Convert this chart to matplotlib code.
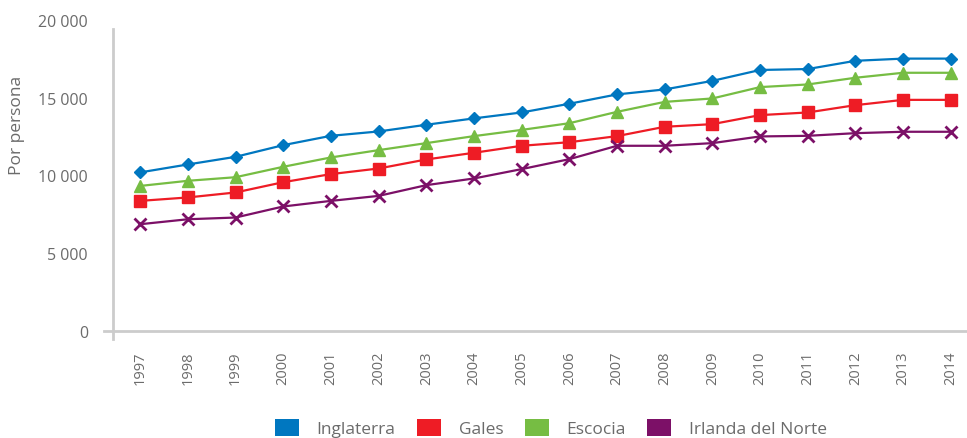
import matplotlib
matplotlib.use("Agg")
import matplotlib.pyplot as plt
from matplotlib.patches import Patch

plt.rcParams['font.family'] = ['Open Sans', 'DejaVu Sans']

# gasto por persona, 1997-2014
anios = list(range(1997, 2015))
inglaterra = [10190, 10700, 11190, 11940, 12540, 12820, 13250, 13660, 14040,
              14600, 15200, 15520, 16070, 16770, 16830, 17360, 17500, 17500]
gales = [8360, 8580, 8900, 9560, 10080, 10440, 11020, 11450, 11900,
         12130, 12520, 13120, 13290, 13870, 14040, 14510, 14850, 14850]
escocia = [9320, 9650, 9880, 10550, 11150, 11620, 12070, 12520, 12920,
           13350, 14080, 14720, 14940, 15670, 15840, 16270, 16590, 16590]
irlanda = [6860, 7180, 7290, 8000, 8360, 8680, 9370, 9800, 10400,
           11040, 11900, 11900, 12070, 12500, 12540, 12710, 12800, 12800]

series = [
    ("Inglaterra", inglaterra, "#0077C0", "D", 6, 1),
    ("Gales", gales, "#EE1C25", "s", 9, 1),
    ("Escocia", escocia, "#76BD43", "^", 8, 1),
    ("Irlanda del Norte", irlanda, "#7C1067", "x", 9, 2),
]

gris = "#6b6b6b"
eje = "#cccccc"

fig = plt.figure(figsize=(9.67, 4.39), dpi=100)
ax = fig.add_axes([113 / 967, 1 - 332 / 439, 1 - 113 / 967, (332 - 20.7) / 439])

for nombre, valores, color, marca, ms, mew in series:
    ax.plot(anios, valores, color=color, lw=1.6, marker=marca, ms=ms,
            mew=mew, mec=color, mfc=color, label=nombre)

ax.set_xlim(1996.43, 2014.34)
ax.set_ylim(0, 20000)

ax.set_yticks([0, 5000, 10000, 15000, 20000])
ax.set_yticklabels(["0", "5 000", "10 000", "15 000", "20 000"])
ax.set_xticks(anios)
ax.set_xticklabels([str(a) for a in anios], rotation=90)

ax.tick_params(axis='y', length=0, pad=18, labelsize=11.5, labelcolor=gris)
ax.tick_params(axis='x', length=0, pad=14, labelsize=10.5, labelcolor=gris)

for lado in ["top", "right"]:
    ax.spines[lado].set_visible(False)
ax.spines["left"].set_color(eje)
ax.spines["left"].set_linewidth(2)
ax.spines["left"].set_bounds(-520, 19400)
ax.spines["bottom"].set_color(eje)
ax.spines["bottom"].set_linewidth(2)
ax.spines["bottom"].set_bounds(1996.24, 2014.34)

fig.text(17 / 967, 1 - 125 / 439, "Por persona", rotation=90, ha="center",
         va="center", fontsize=12.5, color=gris)

handles = [Patch(facecolor=c, edgecolor="none") for _, _, c, _, _, _ in series]
fig.legend(handles, [s[0] for s in series], loc="center",
           bbox_to_anchor=(551 / 967, 1 - 429 / 439), ncol=4, frameon=False,
           fontsize=12.5, labelcolor=gris, handletextpad=1.0,
           columnspacing=1.25, handlelength=1.38, handleheight=1.15)

fig.savefig("out.png", dpi=100)
